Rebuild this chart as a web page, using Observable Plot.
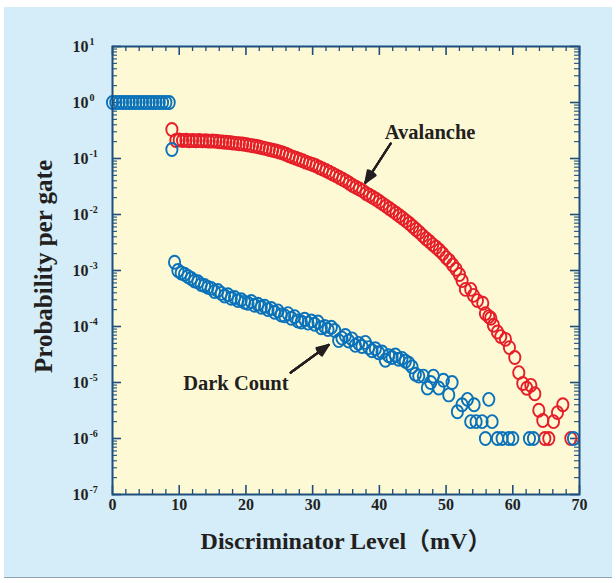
<!DOCTYPE html>
<html><head><meta charset="utf-8">
<script src="https://cdn.jsdelivr.net/npm/d3@7"></script>
<script src="https://cdn.jsdelivr.net/npm/@observablehq/plot@0.6"></script>
<style>
html,body{margin:0;padding:0;background:#fff;}
#wrap{position:relative;width:616px;height:583px;overflow:hidden;}
#bg{position:absolute;left:4px;top:7px;width:608px;height:570px;background:#d5ecf9;border-bottom:1px solid #8fa3b3;}
#chart{position:absolute;left:0;top:0;}
</style></head><body>
<div id="wrap"><div id="bg"></div><div id="chart"></div></div>
<script>
// ---------- data ----------
const saturatedMV   = [0,0.5,1,1.5,2,2.5,3,3.5,4,4.5,5,5.5,6,6.5,7,7.5,8,8.5];
const saturatedProb = [1,1,1,1,1,1,1,1,1,1,1,1,1,1,1,1,1,1];

const avalancheMV = [8.9,9.5,10,10.5,11,11.5,12,12.5,13,13.5,14,14.5,15,15.5,16,16.5,17,17.5,18,18.5,19,19.5,20,20.5,21,21.5,22,22.5,23,23.5,24,24.5,25,25.5,26,26.5,27,27.5,28,28.5,29,29.5,30,30.5,31,31.5,32,32.5,33,33.5,34,34.5,35,35.5,36,36.5,37,37.5,38,38.5,39,39.5,40,40.5,41,41.5,42,42.5,43,43.5,44,44.5,45,45.5,46,46.5,47,47.5,48,48.5,49,49.5,50,50.5,51,51.5,52,52.4,52.9,53.7,54.1,54.7,55.5,55.9,56.4,56.7,57.1,57.7,58.2,58.9,59.5,60.3,60.9,61.5,62.1,62.7,63.3,63.9,64.5,64.8,65.4,66.1,66.7,67.5,68.7];
const avalancheProb = [0.33,0.21,0.215,0.21,0.212,0.208,0.21,0.207,0.209,0.206,0.207,0.204,0.205,0.203,0.199,0.197,0.195,0.193,0.189,0.186,0.183,0.181,0.178,0.173,0.169,0.165,0.160,0.155,0.150,0.145,0.140,0.136,0.131,0.125,0.119,0.112,0.106,0.101,0.096,0.091,0.086,0.082,0.078,0.074,0.069,0.065,0.061,0.057,0.053,0.0495,0.0458,0.0426,0.0395,0.0362,0.033,0.0306,0.0285,0.0264,0.0237,0.0220,0.0203,0.0187,0.0171,0.0155,0.0141,0.0128,0.0116,0.0105,0.0095,0.0086,0.0077,0.0069,0.0061,0.0054,0.0048,0.0042,0.0037,0.0033,0.0029,0.0026,0.0023,0.0020,0.0017,0.0015,0.00125,0.00105,0.00085,0.00066,4.6e-4,4.6e-4,3.6e-4,2.9e-4,2.6e-4,1.7e-4,1.5e-4,1.4e-4,1.05e-4,8.0e-5,6.6e-5,5.9e-5,4.2e-5,2.8e-5,1.5e-5,9.6e-6,7.9e-6,8.9e-6,6.3e-6,3.2e-6,2.1e-6,1e-6,1e-6,2e-6,2.9e-6,4e-6,1e-6];

const darkMV = [8.9,9.3,9.8,10.3,10.8,11.3,11.8,12.3,12.8,13.3,13.8,14.3,14.8,15.3,15.8,16.3,16.8,17.3,17.8,18.3,18.8,19.3,19.8,20.3,20.8,21.3,21.8,22.3,22.8,23.3,23.8,24.3,24.8,25.3,25.8,26.3,26.8,27.3,27.8,28.3,28.8,29.3,29.8,30.3,30.8,31.3,31.8,32.3,32.8,33.3,33.9,34.4,34.9,35.4,35.9,36.4,36.9,37.4,37.9,38.4,38.9,39.4,39.9,40.4,40.9,41.4,41.9,42.4,42.9,43.4,43.9,44.4,44.9,45.4,45.9,46.6,47.2,47.7,48.1,48.9,49.6,50.4,50.9,51.7,52.4,53.2,53.7,54.2,54.5,55.4,55.9,56.4,56.9,57.7,58.4,59.4,60.0,62.5,63.1,69.1];
const darkProb = [0.145,1.4e-3,1.0e-3,9.0e-4,8.6e-4,7.8e-4,7.2e-4,6.5e-4,6.3e-4,5.6e-4,5.4e-4,5.0e-4,4.8e-4,4.2e-4,4.4e-4,3.9e-4,3.5e-4,3.7e-4,3.2e-4,3.3e-4,2.9e-4,3.0e-4,2.7e-4,2.6e-4,2.8e-4,2.4e-4,2.5e-4,2.2e-4,2.3e-4,2.0e-4,2.1e-4,1.8e-4,1.9e-4,1.6e-4,1.55e-4,1.7e-4,1.4e-4,1.5e-4,1.25e-4,1.2e-4,1.35e-4,1.15e-4,1.25e-4,1.1e-4,1.2e-4,9.5e-5,1.0e-4,8.8e-5,9.7e-5,8.5e-5,5.6e-5,6.2e-5,6.9e-5,5.5e-5,6.0e-5,4.6e-5,5.0e-5,4.4e-5,5.2e-5,4.2e-5,3.7e-5,4.0e-5,3.4e-5,3.5e-5,2.5e-5,3.0e-5,2.8e-5,3.1e-5,2.6e-5,2.7e-5,2.4e-5,2.2e-5,1.9e-5,1.4e-5,1.3e-5,1.3e-5,8e-6,1e-5,1.3e-5,8e-6,1.1e-5,6e-6,1e-5,3e-6,4e-6,5e-6,2e-6,4e-6,2e-6,2e-6,1e-6,5e-6,2e-6,1e-6,1e-6,1e-6,1e-6,1e-6,1e-6,1e-6];

const xTickLabels = [0,10,20,30,40,50,60,70];
const yTickExponents = [1,0,-1,-2,-3,-4,-5,-6,-7];

const labelTexts = ["Avalanche","Dark Count"];
const labelMV    = [40.8,10.6];
const labelProb  = [0.29,9.6e-6];
const arrowFromMV = [41.7,26.7], arrowFromProb = [0.185,1.5e-5];
const arrowToMV   = [37.9,32.4], arrowToProb   = [0.037,4.7e-5];

const xTitle = "Discriminator Level（mV）";
const yTitle = "Probability per gate";

// ---------- build ----------
const W = 616, H = 583;
const M = {top: 46, right: 37, bottom: 89, left: 112};
const plotH = H - M.top - M.bottom, plotW = W - M.left - M.right;
const RED = "#e61e28", BLUE = "#0a72ba", AXIS = "#1c4f7e", INK = "#231f20";
const FONT = "'Liberation Serif','Times New Roman',serif";

const toRows = (xs, ys) => xs.map((x, i) => ({x, y: ys[i]}));
const saturated = toRows(saturatedMV, saturatedProb);
const avalanche = toRows(avalancheMV, avalancheProb);
const dark = toRows(darkMV, darkProb);
const labels = labelTexts.map((t, i) => ({t, x: labelMV[i], y: labelProb[i]}));
const arrows = arrowFromMV.map((x1, i) => ({x1, y1: arrowFromProb[i], x2: arrowToMV[i], y2: arrowToProb[i]}));

const xMajor = xTickLabels;
const xMinor = d3.range(0, 71, 2).filter(v => v % 10 !== 0);
const yMajor = yTickExponents.map(e => Math.pow(10, e));
const yMinor = [];
for (let e = -7; e < 1; e++) for (let m = 2; m <= 9; m++) yMinor.push(m * Math.pow(10, e));

// elliptical open circle (the reference markers are slightly taller than wide)
const ellipse = {draw(ctx) {
  const rx = 5.6, ry = 6.5, k = 0.5523;
  ctx.moveTo(rx, 0);
  ctx.bezierCurveTo(rx, k*ry, k*rx, ry, 0, ry);
  ctx.bezierCurveTo(-k*rx, ry, -rx, k*ry, -rx, 0);
  ctx.bezierCurveTo(-rx, -k*ry, -k*rx, -ry, 0, -ry);
  ctx.bezierCurveTo(k*rx, -ry, rx, -k*ry, rx, 0);
  ctx.closePath();
}};

const majLen = 9, minLen = 5;
const tickStyle = (w) => ({stroke: AXIS, strokeWidth: w});

const marks = [
  Plot.frame({fill: "#fdf9d5"}),
  // x ticks bottom & top (inward)
  Plot.tickX(xMajor, {x: d => d, insetTop: plotH - majLen, ...tickStyle(1.6)}),
  Plot.tickX(xMinor, {x: d => d, insetTop: plotH - minLen, ...tickStyle(1.3)}),
  Plot.tickX(xMajor, {x: d => d, insetBottom: plotH - majLen, ...tickStyle(1.6)}),
  Plot.tickX(xMinor, {x: d => d, insetBottom: plotH - minLen, ...tickStyle(1.3)}),
  // y ticks left & right (inward)
  Plot.tickY(yMajor, {y: d => d, insetRight: plotW - majLen, ...tickStyle(1.6)}),
  Plot.tickY(yMinor, {y: d => d, insetRight: plotW - minLen, ...tickStyle(1.1)}),
  Plot.tickY(yMajor, {y: d => d, insetLeft: plotW - majLen, ...tickStyle(1.6)}),
  Plot.tickY(yMinor, {y: d => d, insetLeft: plotW - minLen, ...tickStyle(1.1)}),
  // data
  Plot.dot(avalanche, {x: "x", y: "y", symbol: ellipse, stroke: RED, strokeWidth: 1.9, fill: "none"}),
  Plot.dot(saturated, {x: "x", y: "y", symbol: ellipse, stroke: BLUE, strokeWidth: 1.9, fill: "none"}),
  Plot.dot(dark, {x: "x", y: "y", symbol: ellipse, stroke: BLUE, strokeWidth: 1.9, fill: "none"}),
  Plot.frame({stroke: AXIS, strokeWidth: 2}),
  // x tick labels
  Plot.text(xTickLabels, {x: d => d, text: d => String(d), frameAnchor: "bottom", lineAnchor: "middle", textAnchor: "middle", dy: 10,
    fontSize: 16, fontWeight: "bold", fontFamily: FONT, fill: INK}),
  // y tick labels: "10" + superscript exponent
  Plot.text(yTickExponents, {y: d => Math.pow(10, d), text: () => "10", frameAnchor: "left", textAnchor: "end", lineAnchor: "middle", dx: -24,
    fontSize: 16, fontWeight: "bold", fontFamily: FONT, fill: INK}),
  Plot.text(yTickExponents, {y: d => Math.pow(10, d), text: d => String(d), frameAnchor: "left", textAnchor: "start", lineAnchor: "middle", dx: -23, dy: -5,
    fontSize: 10, fontWeight: "bold", fontFamily: FONT, fill: INK}),
  // axis titles
  Plot.text([xTitle], {text: d => d, frameAnchor: "bottom", textAnchor: "middle", lineAnchor: "middle", dy: 47,
    fontSize: 24, fontWeight: "bold", fontFamily: FONT + ",'Noto Sans CJK SC'", fill: INK}),
  Plot.text([yTitle], {text: d => d, frameAnchor: "left", textAnchor: "middle", lineAnchor: "middle", dx: -69, dy: -4, rotate: -90,
    fontSize: 25, fontWeight: "bold", fontFamily: FONT, fill: INK}),
  // annotations
  Plot.text(labels, {x: "x", y: "y", text: "t", textAnchor: "start", lineAnchor: "middle",
    fontSize: 20.5, fontWeight: "bold", fontFamily: FONT, fill: INK}),
  ...[44, 34, 24, 14, 5].map(a => Plot.arrow(arrows, {x1: "x1", y1: "y1", x2: "x2", y2: "y2",
    stroke: INK, strokeWidth: 2, headLength: 9.5, headAngle: a}))
];

const chart = Plot.plot({
  width: W, height: H,
  marginTop: M.top, marginRight: M.right, marginBottom: M.bottom, marginLeft: M.left,
  style: {background: "transparent", overflow: "visible"},
  x: {domain: [0, 70], axis: null},
  y: {type: "log", domain: [1e-7, 10], axis: null},
  marks
});
document.getElementById("chart").appendChild(chart);
</script>
</body></html>
